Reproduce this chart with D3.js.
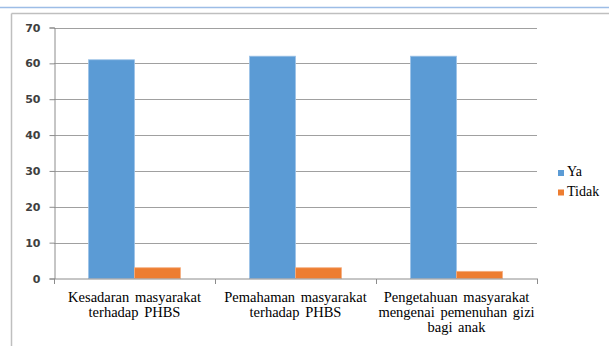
<!DOCTYPE html>
<html>
<head>
<meta charset="utf-8">
<script src="https://cdn.jsdelivr.net/npm/d3@7"></script>
<style>
  html, body { margin: 0; padding: 0; background: #fff; }
  svg { display: block; }
  .serif { font-family: "Liberation Serif", Tinos, "DejaVu Serif", "Times New Roman", Times, serif; }
  .sans { font-family: "DejaVu Sans", Verdana, sans-serif; }
</style>
</head>
<body>
<svg id="chart" width="609" height="346"></svg>
<script>
// Survey answers per indicator
const categories = [
  ["Kesadaran masyarakat", "terhadap PHBS"],
  ["Pemahaman masyarakat", "terhadap PHBS"],
  ["Pengetahuan masyarakat", "mengenai pemenuhan gizi", "bagi anak"]
];
const seriesNames = ["Ya", "Tidak"];
const yaValues = [61, 62, 62];
const tidakValues = [3, 3, 2];
const yTicks = [0, 10, 20, 30, 40, 50, 60, 70];
const colors = ["#5B9BD5", "#ED7D31"];

const svg = d3.select("#chart");

// Frame lines
svg.append("line").attr("x1", 0).attr("x2", 609).attr("y1", 7.5).attr("y2", 7.5)
  .attr("stroke", "#9DBDE6").attr("stroke-width", 1.5);
svg.append("line").attr("x1", 11.5).attr("x2", 609).attr("y1", 13.5).attr("y2", 13.5)
  .attr("stroke", "#BFBFBF").attr("stroke-width", 1.5);
svg.append("line").attr("x1", 11.5).attr("x2", 11.5).attr("y1", 13.5).attr("y2", 346)
  .attr("stroke", "#BFBFBF").attr("stroke-width", 1.5);

const plot = { left: 54, right: 537, top: 27.5, bottom: 278.5 };

const x0 = d3.scaleBand().domain(d3.range(categories.length))
  .range([plot.left, plot.right]).paddingInner(0).paddingOuter(0);
const x1 = d3.scaleBand().domain(d3.range(seriesNames.length))
  .range([0, x0.bandwidth()]).paddingInner(0).paddingOuter(0.75);
const y = d3.scaleLinear().domain([0, 70]).range([plot.bottom, plot.top]);

// Gridlines
svg.append("g").selectAll("line").data(yTicks.filter(d => d > 0)).join("line")
  .attr("x1", plot.left).attr("x2", plot.right)
  .attr("y1", d => Math.round(y(d)) + 0.5).attr("y2", d => Math.round(y(d)) + 0.5)
  .attr("stroke", "#A0A0A0").attr("stroke-width", 1);

// Y axis
const yAxis = svg.append("g").attr("transform", `translate(${plot.left + 0.5},0)`)
  .call(d3.axisLeft(y).tickValues(yTicks).tickSize(5).tickPadding(9));
yAxis.attr("font-family", null);
yAxis.select(".domain").attr("stroke", "#8C8C8C");
yAxis.selectAll(".tick line").attr("stroke", "#8C8C8C");
yAxis.selectAll(".tick text")
  .attr("class", "sans")
  .attr("font-size", 11).attr("font-weight", "bold").attr("fill", "#404040");

// Bars
const groups = svg.append("g").selectAll("g").data(categories).join("g")
  .attr("transform", (d, i) => `translate(${x0(i)},0)`);
const valuesBySeries = [yaValues, tidakValues];
groups.selectAll("rect")
  .data((d, i) => valuesBySeries.map((vals, s) => ({ s, v: vals[i] })))
  .join("rect")
  .attr("x", d => x1(d.s))
  .attr("width", x1.bandwidth())
  .attr("y", d => y(d.v))
  .attr("height", d => y(0) - y(d.v))
  .attr("fill", d => colors[d.s])
  .attr("stroke", d => d.s === 0 ? "#9CC2E8" : "#F4AE80")
  .attr("stroke-width", 0.8);

// X axis
const xAxisY = plot.bottom + 0.5;
svg.append("line").attr("x1", plot.left).attr("x2", plot.right + 1)
  .attr("y1", xAxisY).attr("y2", xAxisY).attr("stroke", "#8C8C8C");
const xTickPos = d3.range(categories.length).map(i => x0(i)).concat([plot.right]);
svg.append("g").selectAll("line").data(xTickPos).join("line")
  .attr("x1", d => Math.round(d) + 0.5).attr("x2", d => Math.round(d) + 0.5)
  .attr("y1", xAxisY).attr("y2", xAxisY + 5).attr("stroke", "#8C8C8C");

// Category labels
const labels = svg.append("g").selectAll("text").data(categories).join("text")
  .attr("class", "serif")
  .attr("text-anchor", "middle")
  .attr("font-size", 14.5).attr("fill", "#000")
  .attr("transform", (d, i) => `translate(${x0(i) + x0.bandwidth() / 2},302)`);
labels.selectAll("tspan").data(d => d).join("tspan")
  .attr("x", 0).attr("dy", (d, j) => j === 0 ? 0 : 15)
  .attr("word-spacing", 2)
  .text(d => d);

// Legend
const legend = svg.append("g").selectAll("g").data(seriesNames).join("g")
  .attr("transform", (d, i) => `translate(558,${170 + i * 19.5})`);
legend.append("rect").attr("width", 6).attr("height", 6)
  .attr("fill", (d, i) => colors[i]);
legend.append("text").attr("x", 9).attr("y", 6)
  .attr("class", "serif")
  .attr("font-size", 14).attr("fill", "#000")
  .text(d => d);
</script>
</body>
</html>
